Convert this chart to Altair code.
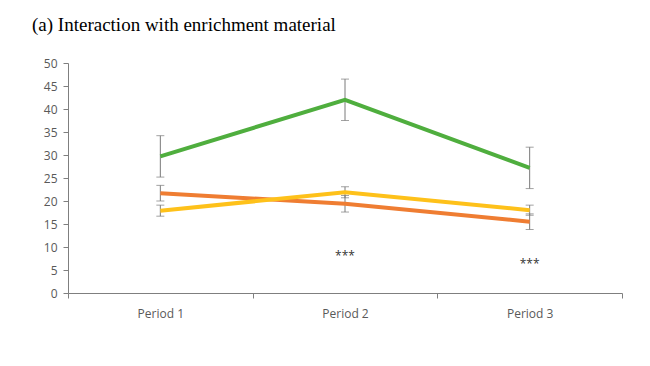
import altair as alt
import pandas as pd

periods = ["Period 1", "Period 2", "Period 3"]
series = ["Green", "Orange", "Yellow"]
green_mean = [29.7, 42.0, 27.2]
green_err = [4.5, 4.5, 4.5]
orange_mean = [21.7, 19.4, 15.5]
orange_err = [1.7, 1.8, 1.7]
yellow_mean = [17.9, 21.9, 18.0]
yellow_err = [1.2, 1.2, 1.1]
colors = ["#4fae3e", "#ef7d32", "#fec11a"]
star_periods = ["Period 2", "Period 3"]
star_y = [8.1, 6.4]

rows = []
for name, m, e in [("Green", green_mean, green_err), ("Orange", orange_mean, orange_err), ("Yellow", yellow_mean, yellow_err)]:
    for p, v, err in zip(periods, m, e):
        rows.append({"period": p, "series": name, "mean": v, "lo": v - err, "hi": v + err})
df = pd.DataFrame(rows)
stars = pd.DataFrame({"period": star_periods, "y": star_y, "label": ["***", "***"]})

xaxis = alt.Axis(labelAngle=0, tickBand="extent", labelFont="Open Sans", labelFontSize=12,
                 labelColor="#595959", domainColor="#7f7f7f", tickColor="#7f7f7f",
                 tickSize=5, labelPadding=10, grid=False, title=None)
xscale = alt.Scale(paddingInner=0, paddingOuter=0)
yscale = alt.Scale(domain=[0, 50], nice=False)
yaxis = alt.Axis(values=list(range(0, 51, 5)), labelFont="Open Sans", labelFontSize=12,
                 labelColor="#595959", domainColor="#7f7f7f", tickColor="#7f7f7f",
                 tickSize=5, labelPadding=6, grid=False, title=None, labelOverlap=False)


def X():
    return alt.X("period:N", sort=periods, scale=xscale, axis=xaxis)


def Y(field):
    return alt.Y(field, scale=yscale, axis=yaxis)


base = alt.Chart(df)
lines = base.mark_line(strokeWidth=4).encode(
    x=X(),
    y=Y("mean:Q"),
    color=alt.Color("series:N", scale=alt.Scale(domain=series, range=colors), legend=None),
    detail="series:N",
)
rules = base.mark_rule(color="#7a7a7a", strokeWidth=1).encode(x=X(), y=Y("lo:Q"), y2="hi:Q")
cap_hi = base.mark_tick(color="#7a7a7a", thickness=1, size=8, orient="horizontal").encode(x=X(), y=Y("hi:Q"))
cap_lo = base.mark_tick(color="#7a7a7a", thickness=1, size=8, orient="horizontal").encode(x=X(), y=Y("lo:Q"))
star_text = alt.Chart(stars).mark_text(font="Open Sans", fontSize=12, color="#333333").encode(
    x=X(), y=Y("y:Q"), text="label:N")

chart = alt.layer(rules, cap_hi, cap_lo, lines, star_text).properties(
    width=554, height=230,
    autosize=alt.AutoSizeParams(type="none"),
    padding={"left": 60, "top": 55, "right": 20, "bottom": 50},
    title=alt.TitleParams("(a)  Interaction with enrichment material", anchor="start", frame="group",
                          font="Liberation Serif", fontSize=19, fontWeight="normal", color="#000000",
                          dx=-36, offset=22),
).configure(background="white").configure_view(strokeWidth=0, stroke=None)

chart.save("out.html", embed_options={"renderer": "svg", "actions": False})
